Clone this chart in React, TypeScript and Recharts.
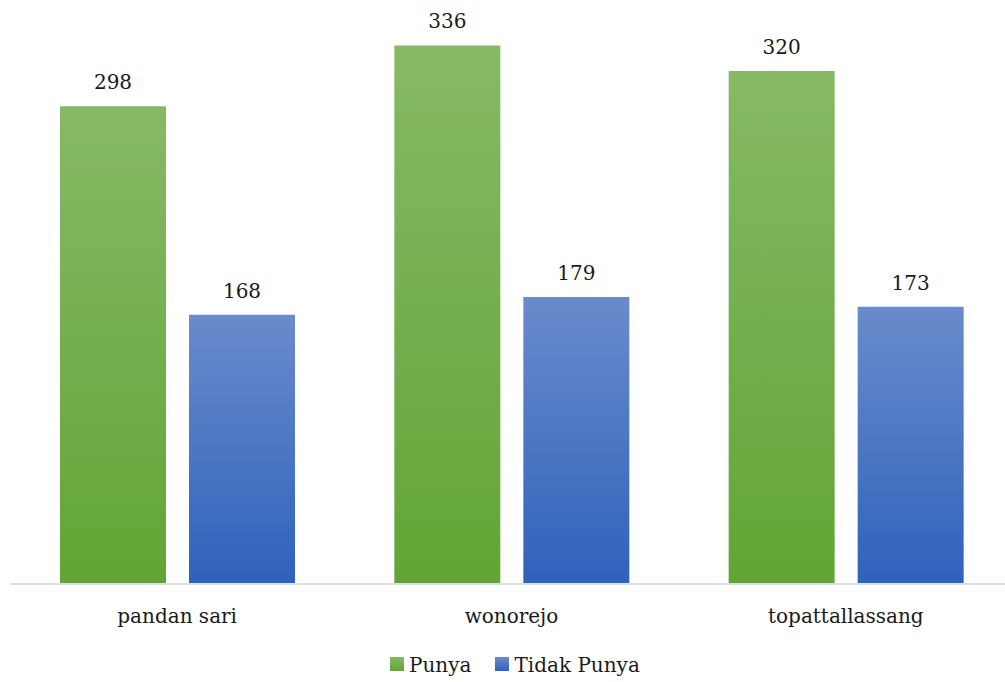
import React from "react";
import { BarChart, Bar, XAxis, YAxis, Legend, LabelList } from "recharts";

const categories = ["pandan sari", "wonorejo", "topattallassang"];
const punya = [298, 336, 320];
const tidakPunya = [168, 179, 173];

const data = categories.map((name, i) => ({
  name,
  Punya: punya[i],
  "Tidak Punya": tidakPunya[i],
}));

const FONT = "'DejaVu Serif', 'Liberation Serif', serif";
const FONT_SIZE = 20;

const legendItems = [
  { label: "Punya", grad: "linear-gradient(#86b966, #62a535)" },
  { label: "Tidak Punya", grad: "linear-gradient(#6a8bcc, #2e62bb)" },
];

const renderLegend = () => (
  <div style={{ display: "flex", alignItems: "center", fontFamily: FONT, fontSize: FONT_SIZE, color: "#1a1a1a", height: 30, whiteSpace: "nowrap" }}>
    {legendItems.map((it, i) => (
      <div key={it.label} style={{ display: "flex", alignItems: "center", marginRight: i === 0 ? 24 : 0 }}>
        <span style={{ display: "inline-block", width: 14, height: 14, background: it.grad, marginRight: 5, position: "relative", top: -1 }} />
        <span>{it.label}</span>
      </div>
    ))}
  </div>
);

export default function App() {
  return (
    <div style={{ position: "absolute", left: 0, top: 0, width: 1005, height: 682, overflow: "hidden", background: "#fff" }}>
      <BarChart
        width={1013}
        height={682}
        data={data}
        margin={{ top: 23, right: 0, left: 10, bottom: 0 }}
        barCategoryGap={50}
        barGap={23}
      >
        <defs>
          <linearGradient id="gGreen" x1="0" y1="0" x2="0" y2="1">
            <stop offset="0%" stopColor="#86b966" />
            <stop offset="100%" stopColor="#62a535" />
          </linearGradient>
          <linearGradient id="gBlue" x1="0" y1="0" x2="0" y2="1">
            <stop offset="0%" stopColor="#6a8bcc" />
            <stop offset="100%" stopColor="#2e62bb" />
          </linearGradient>
        </defs>
        <XAxis
          dataKey="name"
          height={68}
          tickLine={false}
          axisLine={{ stroke: "#dadee5", strokeWidth: 2 }}
          tickMargin={19}
          tick={{ fontFamily: FONT, fontSize: FONT_SIZE, fill: "#1a1a1a" }}
          interval={0}
        />
        <YAxis hide domain={[0, 350]} />
        <Legend
          content={renderLegend}
          wrapperStyle={{ position: "absolute", left: 390, top: 650, width: "auto", height: 30 }}
        />
        <Bar dataKey="Punya" fill="url(#gGreen)" isAnimationActive={false}>
          <LabelList dataKey="Punya" position="top" offset={17} style={{ fontFamily: FONT, fontSize: FONT_SIZE, fill: "#1a1a1a" }} />
        </Bar>
        <Bar dataKey="Tidak Punya" fill="url(#gBlue)" isAnimationActive={false}>
          <LabelList dataKey="Tidak Punya" position="top" offset={17} style={{ fontFamily: FONT, fontSize: FONT_SIZE, fill: "#1a1a1a" }} />
        </Bar>
      </BarChart>
    </div>
  );
}
